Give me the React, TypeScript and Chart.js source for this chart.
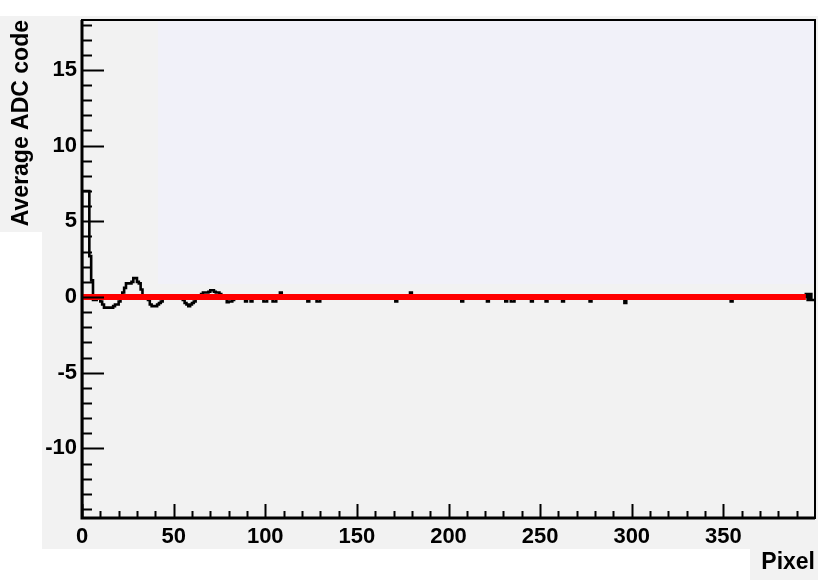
import React, { useEffect, useRef } from "react";
import { Chart, registerables } from "chart.js";

Chart.register(...registerables);

// Average ADC code per pixel (bins 0..399)
const adcValues: number[] = [
  -20, 7, 7, 7, 7, 2.7, 1.1, -0.2, -0.2, 0, 0, -0.3, -0.5, -0.7, -0.7, -0.7, -0.7, -0.7, -0.6, -0.5,
  -0.5, -0.3, -0.1, 0.3, 0.6, 0.9, 0.9, 0.9, 1.0, 1.25, 1.25, 1.0, 0.9, 0.5, 0.1, 0, 0, -0.2, -0.5, -0.6,
  -0.6, -0.6, -0.5, -0.4, -0.3, -0.1, 0, 0, 0, 0, 0, 0, 0, 0, 0, 0, -0.2, -0.4, -0.5, -0.6,
  -0.5, -0.4, -0.3, -0.1, 0, 0, 0.2, 0.3, 0.3, 0.3, 0.35, 0.45, 0.45, 0.35, 0.3, 0.3, 0.2, 0, 0, 0,
  -0.35, -0.3, -0.3, -0.2, 0, 0, 0, 0, 0, 0, -0.3, 0, 0, -0.3, 0, 0, 0, 0, 0, 0,
  -0.3, -0.3, 0, 0, 0, -0.3, -0.3, 0, 0, 0.3, 0, 0, 0, 0, 0, 0, 0, 0, 0, 0,
  0, 0, 0, 0, -0.3, 0, 0, 0, 0, -0.3, -0.3, 0, 0, 0, 0, 0, 0, 0, 0, 0,
  0, 0, 0, 0, 0, 0, 0, 0, 0, 0, 0, 0, 0, 0, 0, 0, 0, 0, 0, 0,
  0, 0, 0, 0, 0, 0, 0, 0, 0, 0, 0, 0, -0.3, 0, 0, 0, 0, 0, 0, 0,
  0.3, 0, 0, 0, 0, 0, 0, 0, 0, 0, 0, 0, 0, 0, 0, 0, 0, 0, 0, 0,
  0, 0, 0, 0, 0, 0, 0, 0, -0.3, 0, 0, 0, 0, 0, 0, 0, 0, 0, 0, 0,
  0, 0, -0.3, 0, 0, 0, 0, 0, 0, 0, 0, 0, -0.3, 0, 0, -0.3, -0.3, 0, 0, 0,
  0, 0, 0, 0, 0, 0, -0.3, 0, 0, 0, 0, 0, 0, 0, -0.3, 0, 0, 0, 0, 0,
  0, 0, 0, -0.3, 0, 0, 0, 0, 0, 0, 0, 0, 0, 0, 0, 0, 0, 0, -0.3, 0,
  0, 0, 0, 0, 0, 0, 0, 0, 0, 0, 0, 0, 0, 0, 0, 0, 0, -0.4, 0, 0,
  0, 0, 0, 0, 0, 0, 0, 0, 0, 0, 0, 0, 0, 0, 0, 0, 0, 0, 0, 0,
  0, 0, 0, 0, 0, 0, 0, 0, 0, 0, 0, 0, 0, 0, 0, 0, 0, 0, 0, 0,
  0, 0, 0, 0, 0, 0, 0, 0, 0, 0, 0, 0, 0, 0, 0, -0.3, 0, 0, 0, 0,
  0, 0, 0, 0, 0, 0, 0, 0, 0, 0, 0, 0, 0, 0, 0, 0, 0, 0, 0, 0,
  0, 0, 0, 0, 0, 0, 0, 0, 0, 0, 0, 0, 0, 0, 0, 0, 0.2, -0.2, 0.2, -0.2,
];

// Red reference line (fit at zero)
const fitX = [0, 395];
const fitY = [0, 0];

const xTickValues = [0, 50, 100, 150, 200, 250, 300, 350];
const yTickValues = [-10, -5, 0, 5, 10, 15];
const xMin = 0;
const xMax = 400;
const yMin = -14.6;
const yMax = 18.3;
const xMinorStep = 10;
const yMinorStep = 1;

const xTitle = "Pixel";
const yTitle = "Average ADC code";

const FAMILY = "'Liberation Sans', Arial, sans-serif";
const TICK_FONT = { family: FAMILY, size: 22, weight: "bold" as const };
const TITLE_FONT = { family: FAMILY, size: 23, weight: "bold" as const };

const rootStyle = {
  id: "rootStyle",
  beforeDraw(chart: any) {
    const ctx = chart.ctx;
    const a = chart.chartArea;
    ctx.save();
    ctx.fillStyle = "#ffffff";
    ctx.fillRect(0, 0, chart.width, chart.height);
    ctx.fillStyle = "#f2f2f2";
    ctx.fillRect(0, a.top - 4, a.right + 3, 216);
    ctx.fillRect(a.left - 40, a.top - 4, a.right + 3 - (a.left - 40), a.bottom + 31 - (a.top - 4));
    ctx.fillRect(a.right - 65, a.bottom + 31, 68, 31);
    ctx.fillStyle = "#f1f1f9";
    ctx.fillRect(a.left + 76, a.top, a.right - (a.left + 76), 264);
    ctx.restore();
  },
  afterDatasetsDraw(chart: any) {
    const ctx = chart.ctx;
    const a = chart.chartArea;
    const xs = chart.scales.x;
    const ys = chart.scales.y;
    ctx.save();
    ctx.strokeStyle = "#000";
    ctx.lineWidth = 2;
    ctx.beginPath();
    for (let v = Math.ceil(yMin); v <= yMax; v += yMinorStep) {
      const y = Math.round(ys.getPixelForValue(v)) + 0.5;
      const len = yTickValues.includes(v) ? 22 : 10;
      ctx.moveTo(a.left, y);
      ctx.lineTo(a.left + len, y);
    }
    for (let v = xMin; v < xMax; v += xMinorStep) {
      const x = Math.round(xs.getPixelForValue(v)) + 0.5;
      const len = xTickValues.includes(v) ? 14 : 7;
      ctx.moveTo(x, a.bottom);
      ctx.lineTo(x, a.bottom - len);
    }
    ctx.stroke();
    // frame
    ctx.lineWidth = 2;
    ctx.strokeRect(a.left, a.top, a.right - a.left, a.bottom - a.top);
    ctx.lineWidth = 3;
    ctx.beginPath();
    ctx.moveTo(a.left, a.top);
    ctx.lineTo(a.left, a.bottom);
    ctx.lineTo(a.right, a.bottom);
    ctx.stroke();
    ctx.restore();
  },
};

export default function App() {
  const ref = useRef<HTMLCanvasElement>(null);
  useEffect(() => {
    if (!ref.current) return;
    const histData = adcValues
      .map((v, i) => ({ x: i, y: v }))
      .concat([{ x: adcValues.length, y: adcValues[adcValues.length - 1] }]);
    const chart = new Chart(ref.current, {
      type: "line",
      data: {
        datasets: [
          {
            label: "fit",
            data: fitX.map((x, i) => ({ x, y: fitY[i] })),
            borderColor: "#ff0000",
            borderWidth: 6,
            borderCapStyle: "butt",
            pointRadius: 0,
            order: 0,
          },
          {
            label: "hist",
            data: histData,
            borderColor: "#000000",
            borderWidth: 2.6,
            pointRadius: 0,
            stepped: "after",
            order: 1,
          },
        ],
      },
      options: {
        responsive: false,
        animation: false,
        devicePixelRatio: 1,
        layout: { padding: { top: 20, right: 15, left: 0, bottom: 0 } },
        plugins: { legend: { display: false }, tooltip: { enabled: false } },
        scales: {
          x: {
            type: "linear",
            min: xMin,
            max: xMax,
            grid: { display: false, drawTicks: false },
            border: { display: false },
            afterBuildTicks: (s: any) => {
              s.ticks = xTickValues.map((v) => ({ value: v }));
            },
            afterFit: (s: any) => {
              s.height = 66;
            },
            ticks: { color: "#000", font: TICK_FONT, padding: 6, maxRotation: 0, autoSkip: false },
            title: {
              display: true,
              text: xTitle,
              align: "end",
              color: "#000",
              font: TITLE_FONT,
              padding: { top: 0, bottom: 8 },
            },
          },
          y: {
            type: "linear",
            min: yMin,
            max: yMax,
            grid: { display: false, drawTicks: false },
            border: { display: false },
            afterBuildTicks: (s: any) => {
              s.ticks = yTickValues.map((v) => ({ value: v }));
            },
            afterFit: (s: any) => {
              s.width = 82;
            },
            ticks: { color: "#000", font: TICK_FONT, padding: 5, autoSkip: false },
            title: {
              display: true,
              text: yTitle,
              align: "end",
              color: "#000",
              font: TITLE_FONT,
              padding: { top: 8, bottom: 0 },
            },
          },
        },
      },
      plugins: [rootStyle],
    } as any);
    return () => chart.destroy();
  }, []);
  return (
    <div style={{ position: "fixed", left: 0, top: 0, width: 830, height: 584 }}>
      <canvas ref={ref} width={830} height={584} style={{ display: "block", width: 830, height: 584 }} />
    </div>
  );
}
